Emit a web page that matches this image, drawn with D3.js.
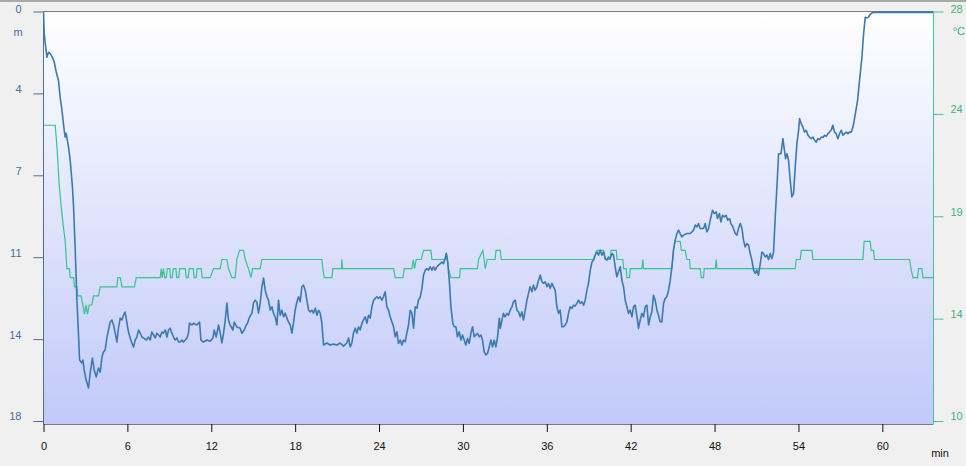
<!DOCTYPE html>
<html><head><meta charset="utf-8">
<script src="https://cdn.jsdelivr.net/npm/d3@7"></script>
<style>
html,body{margin:0;padding:0;background:#f0f0f0;overflow:hidden}
svg{display:block;font-family:"Liberation Sans",Arial,sans-serif}
</style></head><body>
<svg id="c" width="966" height="466"></svg>
<script>
// time (min) ticks and axis labels
const timeTicks = [0, 6, 12, 18, 24, 30, 36, 42, 48, 54, 60];
const depthTicks = [0, 3.6, 7.2, 10.8, 14.4, 18];
const depthTickLabels = ["0", "4", "7", "11", "14", "18"];
const tempTicks = [28, 23.5, 19, 14.5, 10];
const tempTickLabels = ["28", "24", "19", "14", "10"];
const depthUnit = "m", tempUnit = "°C", timeUnit = "min";

// depth profile: [minutes, metres]
const depthReadings = [
[0,0],[0.05,0.97],[0.24,2.01],[0.36,1.79],[0.48,1.84],[0.67,2.06],[0.77,2.23],[0.91,2.66],[1.07,3.03],[1.19,3.76],
[1.32,4.35],[1.48,5.22],[1.55,5.52],[1.62,5.36],[1.79,5.96],[1.91,6.54],[2.07,7.71],[2.15,8.59],[2.27,10.49],[2.39,12.69],
[2.50,14.14],[2.58,15.32],[2.75,15.45],[2.82,15.32],[2.91,15.76],[3.05,16.20],[3.22,16.55],[3.34,15.89],[3.50,15.23],[3.63,15.76],
[3.77,16.07],[3.93,15.67],[4.06,15.85],[4.18,15.19],[4.29,14.97],[4.41,14.88],[4.54,14.31],[4.65,14.00],[4.77,13.65],[4.89,13.56],
[5.01,13.78],[5.13,14.14],[5.25,14.53],[5.36,13.92],[5.49,13.48],[5.61,13.56],[5.72,13.35],[5.84,13.21],[5.97,13.70],[6.08,14.09],
[6.20,14.35],[6.32,14.57],[6.44,14.75],[6.56,14.44],[6.68,14.31],[6.80,14.00],[6.92,14.14],[7.04,14.31],[7.15,14.35],[7.35,14.44],
[7.51,14.31],[7.63,14.44],[7.75,14.09],[7.87,14.22],[7.99,14.35],[8.11,14.14],[8.23,14.22],[8.35,14.31],[8.47,14.09],[8.58,14.14],
[8.71,14.00],[8.83,14.31],[8.94,14.00],[9.06,13.92],[9.18,14.14],[9.30,14.31],[9.42,14.44],[9.54,14.35],[9.66,14.53],[9.78,14.53],
[9.90,14.44],[10.01,14.53],[10.14,14.44],[10.26,14.35],[10.37,14.14],[10.44,13.70],[10.62,13.78],[10.73,13.70],[10.97,13.78],[11.16,13.65],
[11.26,14.44],[11.44,14.53],[11.69,14.44],[11.92,14.49],[12.12,14.35],[12.21,14.00],[12.35,14.31],[12.52,13.78],[12.64,14.14],[12.76,14.57],
[12.88,14.14],[13.00,13.56],[13.12,12.82],[13.23,13.56],[13.35,13.78],[13.55,14.00],[13.64,13.65],[13.83,13.87],[14.07,13.92],[14.19,14.14],
[14.36,14.00],[14.50,13.78],[14.59,13.70],[14.74,13.43],[14.91,13.26],[15.02,12.82],[15.14,12.69],[15.26,12.77],[15.38,13.26],[15.50,12.82],
[15.62,12.12],[15.74,11.72],[15.86,12.25],[15.98,12.54],[16.09,12.69],[16.22,13.13],[16.34,12.98],[16.45,13.26],[16.57,13.42],[16.70,13.78],
[16.81,12.69],[16.93,13.35],[17.05,13.13],[17.17,13.42],[17.29,13.26],[17.41,13.48],[17.52,13.64],[17.65,13.78],[17.77,14.14],[17.88,13.70],
[18.00,13.13],[18.13,12.76],[18.24,12.54],[18.36,12.76],[18.48,12.10],[18.60,12.03],[18.72,12.25],[18.84,12.69],[18.96,13.13],[19.08,13.20],
[19.20,13.13],[19.31,13.26],[19.44,13.04],[19.56,13.35],[19.67,13.13],[19.79,13.26],[19.91,13.70],[20.03,14.66],[20.27,14.57],[20.51,14.66],
[20.74,14.62],[20.99,14.66],[21.22,14.57],[21.46,14.71],[21.70,14.57],[21.82,14.35],[21.94,14.74],[22.06,14.57],[22.17,14.14],[22.30,13.92],
[22.42,14.14],[22.53,13.86],[22.65,14.00],[22.78,13.70],[22.89,13.56],[23.01,13.42],[23.13,13.70],[23.25,13.35],[23.37,13.48],[23.49,12.98],
[23.61,12.69],[23.73,12.61],[23.85,12.54],[23.96,12.61],[24.08,12.54],[24.21,12.69],[24.32,12.54],[24.44,12.32],[24.56,12.98],[24.68,13.13],
[24.80,13.42],[24.92,13.64],[25.04,13.86],[25.16,14.30],[25.28,14.08],[25.39,14.59],[25.52,14.44],[25.64,14.66],[25.75,14.44],[25.87,14.52],
[25.99,14.14],[26.11,13.78],[26.23,13.13],[26.35,13.26],[26.47,13.92],[26.59,12.98],[26.71,13.04],[26.82,12.69],[26.95,12.54],[27.07,12.17],
[27.18,11.59],[27.30,11.37],[27.42,11.30],[27.54,11.37],[27.66,11.22],[27.78,11.37],[27.90,11.22],[28.02,11.37],[28.14,11.22],[28.25,11.15],
[28.38,11.08],[28.50,11.01],[28.61,11.08],[28.73,10.86],[28.81,10.64],[28.90,10.93],[29.04,11.95],[29.14,12.98],[29.28,13.71],[29.38,13.86],
[29.50,13.86],[29.61,14.30],[29.74,14.08],[29.86,14.44],[29.97,14.22],[30.09,14.44],[30.21,14.66],[30.33,14.37],[30.45,14.59],[30.57,14.15],
[30.69,13.86],[30.81,14.30],[30.93,14.22],[31.04,14.15],[31.17,14.30],[31.29,14.22],[31.40,14.44],[31.52,14.96],[31.65,15.10],[31.76,15.03],
[31.88,14.74],[32.00,14.44],[32.12,14.74],[32.24,14.44],[32.36,14.74],[32.48,14.30],[32.60,13.49],[32.67,13.93],[32.79,13.56],[32.90,13.27],
[33.02,13.42],[33.15,13.27],[33.26,13.35],[33.38,13.13],[33.51,12.98],[33.62,12.76],[33.74,12.69],[33.86,13.13],[33.98,13.20],[34.10,13.42],
[34.22,13.20],[34.33,13.56],[34.46,13.13],[34.58,12.69],[34.69,12.39],[34.81,12.10],[34.94,12.32],[35.05,12.03],[35.17,12.25],[35.29,12.10],
[35.41,11.81],[35.53,11.59],[35.65,11.88],[35.77,11.95],[35.89,11.88],[36.01,12.10],[36.12,11.95],[36.24,12.17],[36.37,11.95],[36.48,12.10],
[36.60,12.25],[36.72,12.98],[36.84,13.27],[36.96,13.13],[37.08,13.86],[37.20,13.86],[37.32,13.78],[37.44,13.64],[37.55,13.27],[37.67,12.98],
[37.80,13.05],[37.91,12.91],[38.03,12.95],[38.15,12.83],[38.27,12.69],[38.39,12.83],[38.51,12.76],[38.63,12.91],[38.75,12.69],[38.87,12.25],
[38.98,11.95],[39.11,11.37],[39.23,11.01],[39.34,10.93],[39.46,10.71],[39.58,10.57],[39.70,10.71],[39.82,10.49],[39.94,10.71],[40.06,10.57],
[40.18,10.86],[40.30,10.93],[40.41,10.79],[40.53,10.86],[40.66,10.64],[40.77,10.71],[40.89,11.22],[41.01,11.66],[41.13,11.44],[41.25,11.22],
[41.37,11.81],[41.49,12.10],[41.61,12.69],[41.73,12.98],[41.84,13.27],[41.96,13.13],[42.09,13.42],[42.20,12.98],[42.32,12.91],[42.45,13.42],
[42.56,13.93],[42.68,13.56],[42.80,13.27],[42.92,13.42],[43.04,12.98],[43.16,12.91],[43.28,13.78],[43.40,13.42],[43.52,13.20],[43.63,12.47],
[43.75,12.69],[43.88,13.13],[43.99,13.35],[44.11,13.64],[44.23,13.64],[44.35,12.83],[44.47,12.61],[44.59,12.54],[44.71,12.25],[44.83,11.81],
[44.95,11.22],[45.06,10.49],[45.18,10.05],[45.31,9.76],[45.42,9.61],[45.54,9.76],[45.66,9.91],[45.78,9.83],[46.02,9.76],[46.26,9.76],
[46.38,9.69],[46.50,9.61],[46.62,9.39],[46.74,9.47],[46.85,9.32],[46.97,9.54],[47.21,9.54],[47.33,9.32],[47.45,9.69],[47.57,9.54],
[47.69,9.17],[47.85,8.74],[47.98,8.88],[48.12,8.81],[48.21,9.10],[48.35,8.88],[48.45,9.25],[48.57,8.96],[48.69,9.03],[48.83,8.96],
[48.93,9.17],[49.07,9.10],[49.17,9.32],[49.31,9.47],[49.48,9.76],[49.60,9.83],[49.71,9.54],[49.84,9.32],[49.96,9.54],[50.07,10.05],
[50.19,10.35],[50.31,10.20],[50.43,10.27],[50.55,10.64],[50.67,10.93],[50.79,11.37],[50.91,11.51],[51.03,11.37],[51.14,11.59],[51.27,11.08],
[51.39,10.57],[51.50,10.64],[51.62,10.79],[51.74,10.71],[51.86,10.90],[51.98,10.64],[52.10,10.86],[52.22,10.57],[52.34,9.03],[52.46,7.71],
[52.58,6.25],[52.75,6.25],[52.89,5.59],[52.98,6.03],[53.08,6.47],[53.18,6.25],[53.29,6.54],[53.41,7.42],[53.53,8.15],[53.65,8.00],
[53.77,6.84],[53.89,5.81],[54.01,5.22],[54.08,4.71],[54.20,4.93],[54.32,5.08],[54.43,5.30],[54.56,5.22],[54.68,5.44],[54.79,5.52],
[54.91,5.59],[55.04,5.52],[55.15,5.66],[55.27,5.74],[55.39,5.59],[55.51,5.63],[55.63,5.52],[55.75,5.54],[55.87,5.44],[55.99,5.49],
[56.11,5.37],[56.22,5.30],[56.34,5.22],[56.46,5.00],[56.58,5.30],[56.70,5.37],[56.82,5.59],[56.94,5.37],[57.06,5.22],[57.18,5.44],
[57.30,5.37],[57.42,5.30],[57.54,5.37],[57.65,5.30],[57.78,5.30],[57.90,5.08],[57.99,4.79],[58.11,4.35],[58.23,3.91],[58.30,3.47],
[58.42,2.73],[58.54,2.01],[58.66,0.98],[58.78,0.25],[58.90,0.28],[59.01,0.25],[59.13,0.13],[59.25,0.07],[59.37,0.04],[63.66,0.04]
];

// water temperature: [minutes, °C]
const temperatureReadings = [
[0,23.0],[0.84,23.0],[0.98,21.9],[1.12,20.4],[1.27,19.4],[1.41,18.6],[1.55,17.9],[1.67,16.7],[1.86,16.7],[1.91,16.3],
[2.15,16.3],[2.22,15.9],[2.39,15.9],[2.43,15.5],[2.68,15.5],[2.82,15.1],[2.93,14.7],[3.05,15.1],[3.15,14.7],[3.27,15.1],
[3.46,15.1],[3.58,15.5],[3.93,15.5],[4.06,15.9],[5.25,15.9],[5.32,16.3],[5.49,16.3],[5.61,15.9],[6.51,15.9],[6.63,16.3],
[8.35,16.3],[8.42,16.7],[8.49,16.3],[8.58,16.7],[8.67,16.3],[8.78,16.3],[8.85,16.7],[9.03,16.7],[9.08,16.3],[9.21,16.3],
[9.28,16.7],[9.47,16.7],[9.53,16.3],[9.67,16.3],[9.74,16.7],[10.14,16.7],[10.21,16.3],[10.35,16.3],[10.42,16.7],[10.71,16.7],
[10.78,16.3],[10.92,16.3],[10.99,16.7],[11.28,16.7],[11.35,16.3],[11.92,16.3],[12.16,16.7],[12.64,16.7],[12.76,17.1],[13.12,17.1],
[13.23,16.7],[13.48,16.3],[13.71,16.3],[13.83,17.1],[14.02,17.5],[14.31,17.5],[14.43,17.1],[14.66,16.7],[14.84,16.3],[14.95,16.7],
[15.50,16.7],[15.62,17.1],[19.91,17.1],[19.98,16.7],[20.08,16.3],[20.63,16.3],[20.70,16.7],[21.32,16.7],[21.34,17.1],[21.39,16.7],
[25.04,16.7],[25.16,16.3],[25.71,16.3],[25.80,16.7],[26.35,16.7],[26.45,17.1],[26.54,16.7],[26.66,17.1],[27.02,17.1],[27.18,17.5],
[27.71,17.5],[27.78,17.1],[28.73,17.1],[28.81,17.4],[28.97,16.7],[29.14,16.3],[29.76,16.3],[29.81,16.7],[31.04,16.7],[31.12,17.1],
[31.43,17.5],[31.60,16.7],[31.74,17.1],[32.30,17.1],[32.37,17.5],[32.67,17.5],[32.74,17.1],[39.34,17.1],[39.58,17.5],[40.06,17.5],
[40.18,17.1],[40.54,17.1],[40.59,17.5],[40.97,17.5],[41.02,17.1],[41.44,17.1],[41.49,16.7],[41.68,16.7],[41.73,16.3],[41.92,16.3],
[41.97,16.7],[42.80,16.7],[42.88,17.1],[42.92,16.7],[44.95,16.7],[45.06,17.5],[45.18,17.9],[45.54,17.9],[45.62,17.5],[45.90,17.5],
[46.02,17.1],[46.21,17.1],[46.26,16.7],[46.97,16.7],[47.05,16.3],[47.21,16.3],[47.26,16.7],[48.05,16.7],[48.12,17.1],[48.17,16.7],
[53.77,16.7],[53.84,17.1],[54.13,17.1],[54.20,17.5],[54.96,17.5],[55.04,17.1],[58.61,17.1],[58.70,17.9],[59.13,17.9],[59.20,17.5],
[59.37,17.5],[59.44,17.1],[61.95,17.1],[62.05,16.7],[62.19,16.3],[62.52,16.3],[62.59,16.7],[62.83,16.7],[62.90,16.3],[63.66,16.3]
];

const timeDomain = [0, 63.66];
const depthDomain = [0, 18];
const tempDomain = [10, 28];

const L = 43.5, R = 933.5, T = 11.5, B = 421, BOTTOM = 424;
const svg = d3.select("#c");

const x = d3.scaleLinear().domain(timeDomain).range([L, R]);
const yD = d3.scaleLinear().domain(depthDomain).range([T, B]);
const yT = d3.scaleLinear().domain(tempDomain).range([B, T]);

// top strip
svg.append("rect").attr("x",0).attr("y",0).attr("width",966).attr("height",2).attr("fill","#a9a9a9");

const defs = svg.append("defs");
const g = defs.append("linearGradient").attr("id","bg").attr("x1",0).attr("y1",0).attr("x2",0).attr("y2",1);
g.append("stop").attr("offset","0%").attr("stop-color","#ffffff");
g.append("stop").attr("offset","100%").attr("stop-color","#c1c9f9");
defs.append("clipPath").attr("id","clip").append("rect")
  .attr("x",L).attr("y",T-1).attr("width",R-L).attr("height",BOTTOM-T+1);

svg.append("rect").attr("x",L).attr("y",T).attr("width",R-L).attr("height",BOTTOM-T).attr("fill","url(#bg)");

// frame lines
svg.append("line").attr("x1",L).attr("x2",R).attr("y1",T).attr("y2",T).attr("stroke","#7c7c7c");
svg.append("line").attr("x1",L).attr("x2",R).attr("y1",BOTTOM+0.5).attr("y2",BOTTOM+0.5).attr("stroke","#7c7c7c");

const plot = svg.append("g").attr("clip-path","url(#clip)");

// temperature line
plot.append("path").datum(temperatureReadings)
  .attr("fill","none").attr("stroke","#37c48f").attr("stroke-width",1.2)
  .attr("d", d3.line().x(d=>x(d[0])).y(d=>yT(d[1])));

// depth line
plot.append("path").datum(depthReadings)
  .attr("fill","none").attr("stroke","#3b79b1").attr("stroke-width",1.6).attr("stroke-linejoin","round")
  .attr("d", d3.line().x(d=>x(d[0])).y(d=>yD(d[1])));

// left (depth) axis
const ax = svg.append("g").attr("transform",`translate(${L},0)`)
  .call(d3.axisLeft(yD).tickValues(depthTicks).tickSize(10).tickPadding(12)
    .tickFormat((d,i)=>depthTickLabels[i]));
ax.select(".domain").attr("stroke","#4f6f92").attr("d",`M0,${T}V${BOTTOM}`);
ax.selectAll(".tick line").attr("stroke","#4f6f92");
ax.selectAll(".tick text").attr("fill","#3f6fa6").attr("font-size",11).attr("dy","-0.1em")
  .attr("font-family","'Liberation Sans',Arial,sans-serif");
ax.selectAll(".tick text").filter((d,i)=>i===0).attr("dy","0.1em");
svg.append("text").attr("x",18).attr("y",36).attr("text-anchor","middle")
  .attr("fill","#3f6fa6").attr("font-size",11).text(depthUnit);

// right (temperature) axis
const ar = svg.append("g").attr("transform",`translate(${R},0)`)
  .call(d3.axisRight(yT).tickValues(tempTicks).tickSize(10).tickPadding(13)
    .tickFormat((d,i)=>tempTickLabels[i]));
ar.select(".domain").attr("stroke","#45c0a3").attr("d",`M0,${T}V${BOTTOM}`);
ar.selectAll(".tick line").attr("stroke","#45c0a3");
ar.selectAll(".tick text").attr("fill","#3fb27e").attr("font-size",11).attr("dy","-0.1em")
  .attr("x",23).attr("text-anchor","middle")
  .attr("font-family","'Liberation Sans',Arial,sans-serif");
ar.selectAll(".tick text").filter((d,i)=>i===0).attr("dy","0.1em");
svg.append("text").attr("x",965).attr("y",35).attr("text-anchor","end")
  .attr("fill","#3fb27e").attr("font-size",11).text(tempUnit);

// bottom (time) axis
const ab = svg.append("g").attr("transform",`translate(0,${BOTTOM})`)
  .call(d3.axisBottom(x).tickValues(timeTicks).tickSize(8).tickPadding(10).tickFormat(d3.format("d")));
ab.select(".domain").remove();
ab.selectAll(".tick line").attr("stroke","#111");
ab.selectAll(".tick text").attr("fill","#111").attr("font-size",11)
  .attr("font-family","'Liberation Sans',Arial,sans-serif");
svg.append("text").attr("x",940).attr("y",457).attr("text-anchor","middle")
  .attr("fill","#111").attr("font-size",11).text(timeUnit);
</script>
</body></html>
